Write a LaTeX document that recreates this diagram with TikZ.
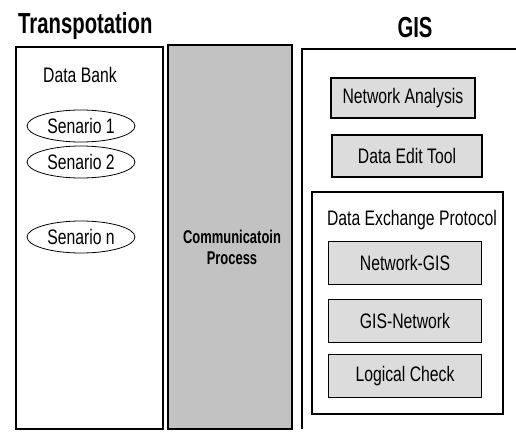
\documentclass[tikz,border=0pt]{standalone}
\usepackage{fontspec}
\setmainfont{Liberation Sans}[FakeStretch=0.75]
\newfontfamily\headfont{Liberation Sans}[FakeStretch=0.7]
\usetikzlibrary{shapes.geometric}
\definecolor{panelgrey}{HTML}{C2C2C2}
\definecolor{boxgrey}{HTML}{DCDCDC}
\tikzset{
  x=1pt, y=-1pt,
  panel/.style={draw=black, line width=1.6pt, inner sep=0pt},
  toolbox/.style={draw=black, line width=1.1pt, fill=boxgrey, inner sep=0pt,
    font=\fontsize{21}{24}\selectfont},
  scenario/.style={ellipse, draw=black, line width=0.8pt, fill=white, inner sep=0pt,
    minimum width=108pt, minimum height=32pt, font=\fontsize{21}{24}\selectfont},
  plain/.style={inner sep=0pt, font=\fontsize{21}{24}\selectfont},
  heading/.style={inner sep=0pt, font=\headfont\bfseries\fontsize{29}{32}\selectfont},
}
\begin{document}
\begin{tikzpicture}
\useasboundingbox (0,0) rectangle (516,439);

% column headings
\node[heading, anchor=base west] (trans) at (18,33) {Transpotation};
\node[heading, anchor=base] (gis) at (415,37) {GIS};

% transportation side: data bank
\draw[panel] (16,47) rectangle (163,429);
\node[plain, anchor=base] (bank) at (80,82) {Data Bank};
\node[scenario] (s1) at (81,126) {Senario 1};
\node[scenario] (s2) at (81,162) {Senario 2};
\node[scenario] (sn) at (81,237) {Senario n};

% communication layer in the middle
\draw[panel, fill=panelgrey] (168,45) rectangle (292,429);
\node[inner sep=0pt, align=center, font=\headfont\bfseries\fontsize{18.5}{21}\selectfont]
  (comm) at (232,247) {Communicatoin\\Process};

% GIS side: panel runs on past the right edge
\draw[panel] (302,429) -- (302,49) -- (520,49);
\node[toolbox, minimum width=144pt, minimum height=40pt] (na) at (403,98) {Network Analysis};
\node[toolbox, minimum width=150pt, minimum height=42pt] (det) at (407,156) {Data Edit Tool};

% data exchange protocol group
\draw[draw=black, line width=1.1pt] (312,192) rectangle (503,414);
\node[plain, anchor=base] (dep) at (412,225) {Data Exchange Protocol};
\node[toolbox, minimum width=153pt, minimum height=43pt] (ng) at (405,263) {Network-GIS};
\node[toolbox, minimum width=153pt, minimum height=43pt] (gn) at (405,321) {GIS-Network};
\node[toolbox, minimum width=153pt, minimum height=43pt] (lc) at (405,376) {Logical Check};
\end{tikzpicture}
\end{document}
